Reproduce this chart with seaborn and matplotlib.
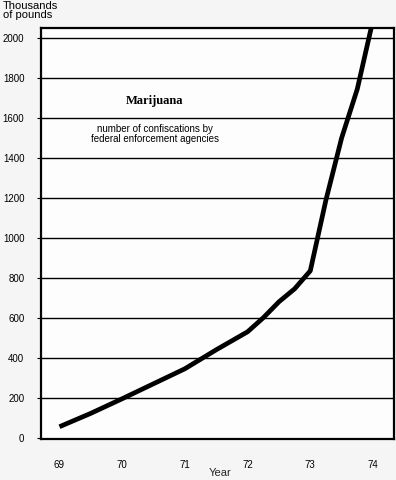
import matplotlib
matplotlib.use("Agg")
import matplotlib.pyplot as plt
import seaborn as sns
import pandas as pd

# Data
years = [69, 69.5, 70, 70.5, 71, 71.5, 72, 72.25, 72.5, 72.75, 73, 73.25, 73.5, 73.75, 74]
pounds_thousands = [55, 122, 195, 270, 345, 440, 530, 600, 680, 745, 835, 1190, 1500, 1745, 2090]
x_ticks = [69, 70, 71, 72, 73, 74]
x_tick_labels = ["69", "70", "71", "72", "73", "74"]
y_ticks = [0, 200, 400, 600, 800, 1000, 1200, 1400, 1600, 1800, 2000]

df = pd.DataFrame({"Year": years, "Pounds": pounds_thousands})

sns.set_style("white")
plt.rcParams["font.family"] = ["Liberation Sans", "DejaVu Sans"]

W, H = 396, 480
fig = plt.figure(figsize=(W / 100, H / 100), dpi=100)
fig.patch.set_facecolor("#f5f5f5")
ax = fig.add_axes([41 / W, 1 - 439 / H, (394 - 41) / W, (439 - 27.7) / H])
ax.set_facecolor("#fdfdfd")

sns.lineplot(data=df, x="Year", y="Pounds", ax=ax, color="black",
             linewidth=3.4, sort=False, solid_capstyle="butt", solid_joinstyle="round")

ax.set_xlim(68.705, 74.335)
ax.set_ylim(-6.5, 2051.5)
ax.set_yticks(y_ticks)
ax.set_yticklabels([str(v) for v in y_ticks])
ax.set_xticks(x_ticks)
ax.set_xticklabels(x_tick_labels)

for v in y_ticks[1:]:
    ax.axhline(v, color="black", linewidth=1.0, zorder=1)

for s in ax.spines.values():
    s.set_visible(True)
    s.set_color("black")
    s.set_linewidth(1.6)

ax.tick_params(axis="y", length=3, width=0.8, pad=9, labelsize=7, colors="black", left=True)
ax.tick_params(axis="x", length=0, pad=15, labelsize=7, colors="black")

ax.set_ylabel("")
ax.set_xlabel("Year", fontsize=8, labelpad=0)
ax.xaxis.label.set_verticalalignment("center")
ax.xaxis.set_label_coords((220 - 41) / (394 - 41), -(473 - 439) / (439 - 27.7), transform=ax.transAxes)

fig.text(3 / W, 1 - 1 / H, "Thousands\nof pounds", ha="left", va="top",
         fontsize=8, linespacing=0.85, color="black")

fig.text(155 / W, 1 - 101 / H, "Marijuana", ha="center", va="center",
         fontsize=9, fontweight="bold", family=["Liberation Serif", "DejaVu Serif"], color="black")
fig.text(155 / W, 1 - 134 / H, "number of confiscations by\nfederal enforcement agencies",
         ha="center", va="center", fontsize=7, linespacing=1.05, color="black")

fig.savefig("out.png", dpi=100, facecolor=fig.get_facecolor())
